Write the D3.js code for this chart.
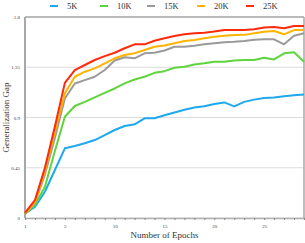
<!DOCTYPE html>
<html>
<head>
<meta charset="utf-8">
<script src="https://cdn.jsdelivr.net/npm/d3@7"></script>
<style>
  body { margin: 0; background: #fff; }
  svg { display: block; font-family: "Liberation Serif", "DejaVu Serif", serif; }
</style>
</head>
<body>
<div class="chart"></div>
<script>
// Data
var epochs = d3.range(1, 30);
var seriesNames = ["5K", "10K", "15K", "20K", "25K"];
var seriesColors = ["#1ea8f0", "#5fd43c", "#9a9a9a", "#ffb400", "#ff2a0a"];

var gap5K = [0.042, 0.10, 0.235, 0.43, 0.624, 0.645, 0.669, 0.698, 0.743, 0.788,
  0.824, 0.839, 0.893, 0.893, 0.92, 0.945, 0.97, 0.99, 1.00, 1.02,
  1.035, 1.00, 1.04, 1.06, 1.075, 1.08, 1.09, 1.10, 1.105];
var gap10K = [0.036, 0.116, 0.28, 0.60, 0.907, 1.003, 1.04, 1.08, 1.12, 1.16,
  1.205, 1.24, 1.265, 1.30, 1.315, 1.345, 1.355, 1.375, 1.385, 1.40,
  1.40, 1.41, 1.415, 1.415, 1.435, 1.42, 1.475, 1.485, 1.40];
var gap15K = [0.04, 0.13, 0.39, 0.716, 1.07, 1.205, 1.235, 1.265, 1.325, 1.41,
  1.44, 1.43, 1.475, 1.48, 1.50, 1.534, 1.534, 1.543, 1.555, 1.564,
  1.573, 1.578, 1.585, 1.596, 1.60, 1.60, 1.555, 1.632, 1.654];
var gap20K = [0.04, 0.14, 0.42, 0.77, 1.116, 1.265, 1.31, 1.34, 1.385, 1.43,
  1.46, 1.475, 1.504, 1.534, 1.545, 1.565, 1.585, 1.594, 1.61, 1.623,
  1.632, 1.638, 1.64, 1.654, 1.668, 1.675, 1.645, 1.683, 1.683];
var gap25K = [0.045, 0.16, 0.45, 0.82, 1.21, 1.325, 1.37, 1.415, 1.45, 1.48,
  1.52, 1.555, 1.555, 1.587, 1.61, 1.63, 1.645, 1.655, 1.66, 1.67,
  1.683, 1.683, 1.683, 1.69, 1.705, 1.71, 1.70, 1.72, 1.72];

var yTicks = [0, 0.45, 0.9, 1.35, 1.8];
var yTickLabels = ["0", "0.45", "0.9", "1.35", "1.8"];
var xTickLabels = [1, 5, 10, 15, 20, 25];

var allSeries = [gap5K, gap10K, gap15K, gap20K, gap25K];

var svgWidth = 305;
var svgHeight = 243;
var margin = { top: 17, right: 1, bottom: 25, left: 25 };
var width = svgWidth - margin.left - margin.right;
var height = svgHeight - margin.top - margin.bottom;

var svg = d3.select(".chart")
  .append("svg")
  .attr("width", svgWidth)
  .attr("height", svgHeight);

var chart = svg.append("g")
  .attr("transform", `translate(${margin.left}, ${margin.top})`);

var x = d3.scaleLinear().domain([1, 29]).range([0, width]);
var y = d3.scaleLinear().domain([0, 1.8]).range([height, 0]);

// gridlines
chart.append("g")
  .selectAll("line")
  .data(yTicks)
  .enter().append("line")
  .attr("x1", 0)
  .attr("x2", width)
  .attr("y1", function(d) { return y(d); })
  .attr("y2", function(d) { return y(d); })
  .attr("stroke", "#dcdcdc")
  .attr("stroke-width", 1);

// x axis, tick every epoch, labels on a few
var xAxis = d3.axisBottom(x)
  .tickValues(epochs)
  .tickSize(2)
  .tickFormat(function(d) { return xTickLabels.indexOf(d) >= 0 ? d : ""; });

var gx = chart.append("g")
  .attr("transform", `translate(0,${height})`)
  .call(xAxis);
gx.select(".domain").attr("stroke", "#b0b0b0").attr("stroke-width", 1.5);
gx.selectAll(".tick line").attr("stroke", "#888");
gx.selectAll(".tick text")
  .attr("font-size", 5)
  .attr("fill", "#444")
  .attr("font-family", "Liberation Serif, serif")
  .attr("dy", "0.9em");

// y axis
var yAxis = d3.axisLeft(y)
  .tickValues(yTicks)
  .tickSize(0)
  .tickPadding(5)
  .tickFormat(function(d, i) { return yTickLabels[i]; });

var gy = chart.append("g").call(yAxis);
gy.select(".domain").remove();
gy.selectAll(".tick text")
  .attr("font-size", 5)
  .attr("fill", "#444")
  .attr("font-family", "Liberation Serif, serif");

// frame
chart.append("line")
  .attr("x1", 0).attr("x2", 0).attr("y1", 0).attr("y2", height)
  .attr("stroke", "#a8a8a8").attr("stroke-width", 2);
chart.append("line")
  .attr("x1", 0).attr("x2", width).attr("y1", 0).attr("y2", 0)
  .attr("stroke", "#a8a8a8").attr("stroke-width", 1.5);
chart.append("line")
  .attr("x1", width).attr("x2", width).attr("y1", 0).attr("y2", height)
  .attr("stroke", "#a8a8a8").attr("stroke-width", 1.5);

// lines
var line = d3.line()
  .x(function(d, i) { return x(epochs[i]); })
  .y(function(d) { return y(d); });

chart.selectAll(".series")
  .data(allSeries)
  .enter().append("path")
  .attr("class", "series")
  .attr("d", line)
  .attr("fill", "none")
  .attr("stroke", function(d, i) { return seriesColors[i]; })
  .attr("stroke-width", 2)
  .attr("stroke-linejoin", "round");

// legend
var legendX = [50, 100, 147, 197, 246];
var legend = svg.selectAll(".legend")
  .data(seriesNames)
  .enter().append("g")
  .attr("class", "legend")
  .attr("transform", function(d, i) { return `translate(${legendX[i]}, 6)`; });

legend.append("line")
  .attr("x1", 0).attr("x2", 8)
  .attr("y1", 0).attr("y2", 0)
  .attr("stroke", function(d, i) { return seriesColors[i]; })
  .attr("stroke-width", 2);

legend.append("text")
  .attr("x", 17)
  .attr("y", 0)
  .attr("dy", "0.35em")
  .attr("font-size", 8.5)
  .attr("fill", "#333")
  .text(function(d) { return d; });

// axis titles
svg.append("text")
  .attr("x", margin.left + width / 2)
  .attr("y", 238)
  .attr("text-anchor", "middle")
  .attr("font-size", 9)
  .attr("fill", "#333")
  .text("Number of Epochs");

svg.append("text")
  .attr("transform", "rotate(-90)")
  .attr("x", -(margin.top + height / 2))
  .attr("y", 9)
  .attr("text-anchor", "middle")
  .attr("font-size", 9)
  .attr("fill", "#333")
  .text("Generalization Gap");
</script>
</body>
</html>
